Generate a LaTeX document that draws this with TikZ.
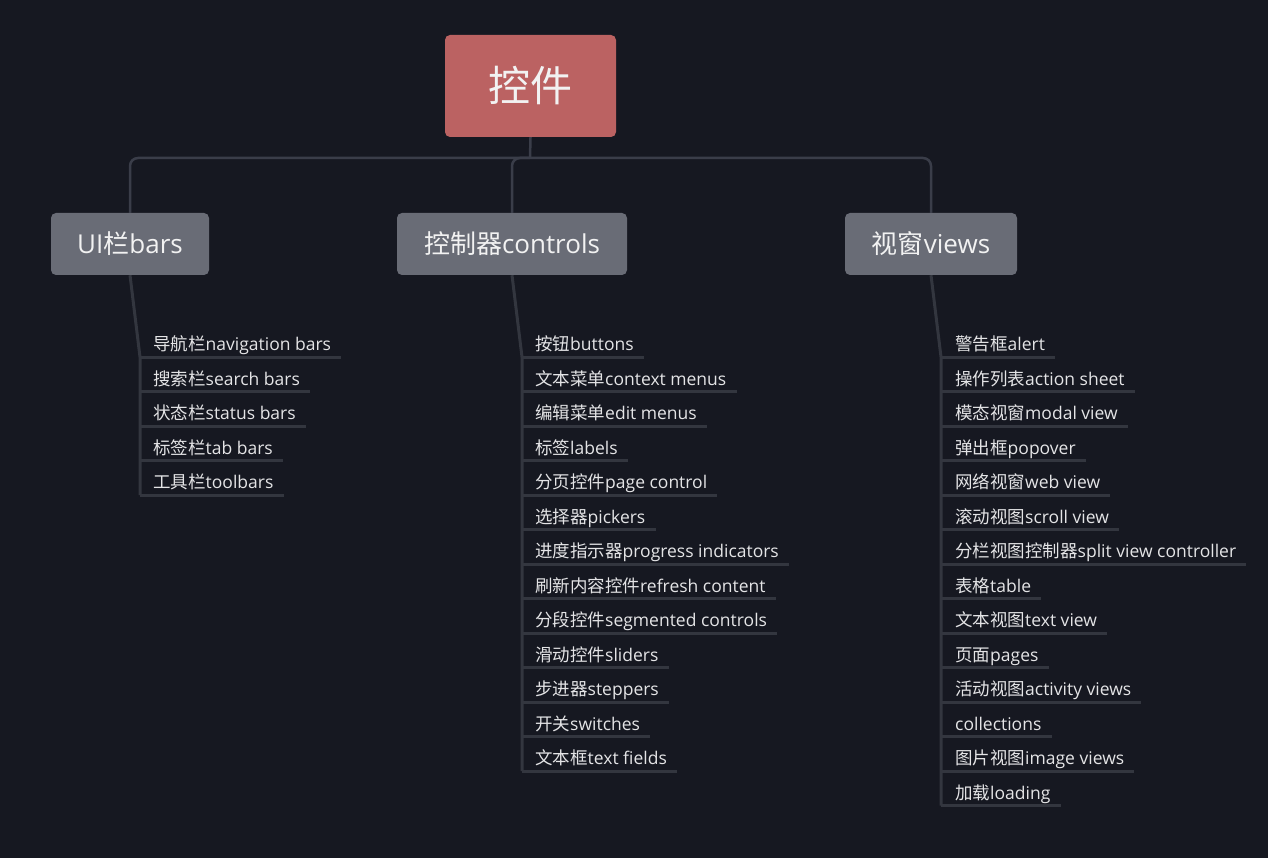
\documentclass[tikz,border=0pt]{standalone}
\usepackage{fontspec}
\setmainfont{Open Sans}
\newfontfamily\cjk{Noto Sans CJK SC}
\usepackage{xcolor}
\usetikzlibrary{calc}
\definecolor{bgdark}{HTML}{161821}
\definecolor{rootred}{HTML}{BB6262}
\definecolor{catgray}{HTML}{696C76}
\definecolor{linkgray}{HTML}{3A3D49}
\definecolor{stemgray}{HTML}{33363F}
\definecolor{leafwhite}{HTML}{E4E4E6}

\begin{document}
\begin{tikzpicture}[
  x=1pt,y=-1pt,
  box/.style={rounded corners=5pt,align=center,inner sep=0pt,text=white!95!black},
  rootbox/.style={box,fill=rootred,minimum width=171pt,minimum height=102pt,font=\cjk\fontsize{42}{50}\selectfont},
  catbox/.style={box,fill=catgray,minimum width=#1,minimum height=62pt,font=\fontsize{26}{31}\selectfont},
  leaf/.style={anchor=south west,inner sep=0pt,text depth=6pt,text=leafwhite,font=\fontsize{17.5}{21}\selectfont},
  link/.style={line width=2.5pt,draw=linkgray,rounded corners=8pt},
  stem/.style={line width=3pt,draw=stemgray,line join=round},
  uline/.style={line width=3pt,draw=stemgray}
]
\fill[bgdark] (0,0) rectangle (1268,858);
\useasboundingbox (0,0) rectangle (1268,858);

% root and categories
\node[rootbox] (root) at (530.5,86) {控件};
\node[catbox=158pt] (ui) at (130,244) {UI{\cjk 栏}bars};
\node[catbox=230pt] (ctrl) at (512,244) {{\cjk 控制器}controls};
\node[catbox=172pt] (views) at (931,244) {{\cjk 视窗}views};

\coordinate (hub) at (530,158);
\draw[link] (root.south) -- (hub);
\draw[link] (ui.north) |- (hub) -| (views.north);
\draw[link] (ctrl.north) |- (hub);

% stems
\coordinate (uiT) at (140,357);
\coordinate (ctrlT) at (522,357);
\coordinate (viewsT) at (941,357);
\draw[stem] (ui.south) -- (uiT) -- ++(0,{34.5*4});
\draw[stem] (ctrl.south) -- (ctrlT) -- ++(0,{34.5*12});
\draw[stem] (views.south) -- (viewsT) -- ++(0,{34.5*13});

% leaves
\foreach \zh/\en [count=\i] in {导航栏/navigation bars,搜索栏/search bars,状态栏/status bars,
  标签栏/tab bars,工具栏/toolbars} {
  \node[leaf] (ui\i) at (153,{357+34.5*(\i-1)}) {{\cjk\zh}\en};
  \draw[uline] (uiT |- ui\i.south) -- ([xshift=10pt]ui\i.south east);
}
\foreach \zh/\en [count=\i] in {按钮/buttons,文本菜单/context menus,编辑菜单/edit menus,标签/labels,
  分页控件/page control,选择器/pickers,进度指示器/progress indicators,刷新内容控件/refresh content,
  分段控件/segmented controls,滑动控件/sliders,步进器/steppers,开关/switches,文本框/text fields} {
  \node[leaf] (ctrl\i) at (535,{357+34.5*(\i-1)}) {{\cjk\zh}\en};
  \draw[uline] (ctrlT |- ctrl\i.south) -- ([xshift=10pt]ctrl\i.south east);
}
\foreach \zh/\en [count=\i] in {警告框/alert,操作列表/action sheet,模态视窗/modal view,弹出框/popover,
  网络视窗/web view,滚动视图/scroll view,分栏视图控制器/split view controller,表格/table,
  文本视图/text view,页面/pages,活动视图/activity views,/collections,图片视图/image views,加载/loading} {
  \node[leaf] (views\i) at (955,{357+34.5*(\i-1)}) {{\cjk\zh}\en};
  \draw[uline] (viewsT |- views\i.south) -- ([xshift=10pt]views\i.south east);
}
\end{tikzpicture}
\end{document}
